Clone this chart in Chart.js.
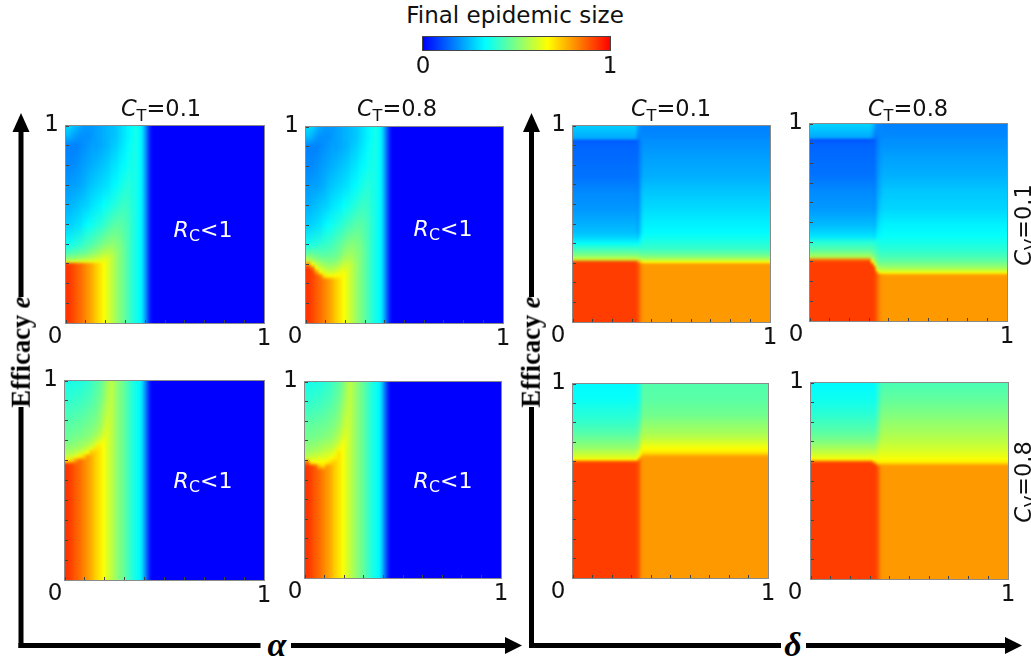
<!DOCTYPE html>
<html><head><meta charset="utf-8">
<style>
html,body{margin:0;padding:0;background:#fff;width:1031px;height:662px;overflow:hidden}
#page{position:relative;width:1031px;height:662px;overflow:hidden;font-family:"DejaVu Sans",sans-serif;color:#111}
canvas{position:absolute}
svg{position:absolute;left:0;top:0}
.t{position:absolute;white-space:nowrap;transform:translate(-50%,-50%);line-height:1}
.s{font-size:.72em;position:relative;top:.28em}
.r{transform:translate(-50%,-50%) rotate(-90deg)}
.w{color:#fff}
.ax{font-family:"Liberation Serif",serif;font-weight:bold;color:#000}
</style></head>
<body><div id="page">
<svg width="1031" height="662">
<g fill="#000">
<rect x="18.5" y="128" width="5" height="169"/><rect x="18.5" y="407" width="5" height="241"/>
<polygon points="21,113 12.5,132 29.5,132"/>
<rect x="18.5" y="643" width="242" height="5"/><rect x="291" y="643" width="215" height="5"/>
<polygon points="522,645.5 505,637 505,654"/>
<rect x="529" y="128" width="5" height="169"/><rect x="529" y="407" width="5" height="241"/>
<polygon points="531.5,113 523,132 540,132"/>
<rect x="529" y="643" width="252" height="5"/><rect x="806" y="643" width="200" height="5"/>
<polygon points="1022,645.5 1005,637 1005,654"/>
</g></svg>
<div id="overlay"></div>
</div>
<script src="https://cdn.jsdelivr.net/npm/chart.js@4/dist/chart.umd.js"></script>
<script>
// ---- shared axis content ----
const colorbarTitle = "Final epidemic size";
const colorbarStops = [0, 0.1, 0.2, 0.3333, 0.4, 0.5, 0.6, 0.6667, 0.8, 0.9, 1];
const colorbarTicks = [0, 1];
const tickValues = [0, 0.1, 0.2, 0.3, 0.4, 0.5, 0.6, 0.7, 0.8, 0.9, 1];

// ---- left group: columns along alpha, values in percent at each efficacy knot ----
const alphaEdges = [0,.02,.04,.06,.08,.10,.12,.14,.16,.18,.20,.22,.24,.26,.28,.30,.32,.34,.36,.38,.39,.40,.41,.42,.43,1];
const alphaTail = [[33],[28],[22],[15],[8],[3],[0]];

const knotsA = [.30,.31,.33,.36,.40,.50,.60,.70,.80,.90,.95,1];
const sizeA = [
[93,62,50,42,35,27,23,20,18,17,24,28],
[91,62,51,43,36,28,24,21,18,17,22,26],
[88,62,52,44,38,29,25,21,19,17,20,24],
[86,63,53,45,39,30,26,22,20,18,19,22],
[83,64,54,46,41,32,27,23,21,19,19,20],
[80,64,56,48,43,34,28,25,22,20,19,20],
[77,64,57,50,44,35,30,26,23,21,20,20],
[73,65,59,52,46,37,31,27,24,21,21,21],
[70,65,60,54,48,38,32,28,25,22,22,22],
[66,65,62,56,50,40,34,29,26,23,23,23],
[62,62,61,57,51,42,35,30,27,24,24,24],
[58,58,58,56,52,44,37,32,29,26,25,25],
[54,54,54,53,51,45,38,33,30,27,26,26],
[50,50,50,50,49,45,40,35,32,29,28,28],
[47,47,47,47,46,44,41,37,33,31,30,30],
[43,43,43,43,43,42,40,38,35,33,32,32],
[39,39,39,39,39,39,38,37,36,35,34,34],
[36]];

const knotsB = [.20,.22,.24,.26,.28,.30,.32,.35,.40,.50,.60,.70,.80,.90,.95,1];
const sizeB = [
[93,93,93,93,93,80,58,47,36,27,23,20,18,17,25,29],
[91,91,91,91,85,65,55,47,37,28,24,21,18,17,23,27],
[88,88,88,80,65,58,52,46,38,29,25,21,19,17,20,24],
[86,86,84,66,60,56,50,45,39,30,26,22,20,18,19,22],
[83,83,70,62,57,53,49,45,40,32,27,23,21,19,19,20],
[80,80,67,60,56,52,49,45,41,34,28,25,22,20,19,20],
[77,77,66,60,56,52,49,46,42,35,30,26,23,21,20,20],
[73,73,67,62,57,54,50,47,44,37,31,27,24,21,21,21],
[70,70,67,64,60,56,53,49,46,38,32,28,25,22,22,22],
[66,66,66,65,62,59,56,52,48,40,34,29,26,23,23,23],
[62,62,62,62,61,60,57,54,50,42,35,30,27,24,24,24],
[58,58,58,58,58,57,56,54,51,43,37,32,29,26,25,25],
[54,54,54,54,54,54,53,52,50,45,38,33,30,27,26,26],
[50,50,50,50,50,50,50,50,49,45,40,35,32,29,28,28],
[47,47,47,47,47,47,47,47,46,44,41,37,33,31,30,30],
[43,43,43,43,43,43,43,43,43,42,40,38,35,33,32,32],
[39,39,39,39,39,39,39,39,39,39,38,37,36,35,34,34],
[36]];

const knotsC = [.58,.60,.62,.64,.66,.68,.70,.72,.74,.78,.85,.92,1];
const sizeC = [
[93,70,60,55,53,51,48,47,46,45,42,39,36],
[91,72,61,56,53,51,49,48,47,45,42,39,36],
[88,80,64,58,54,52,50,49,47,46,43,40,37],
[86,86,68,60,55,53,51,49,48,46,43,40,37],
[83,83,72,63,57,54,52,50,49,47,44,41,38],
[80,80,80,66,60,56,53,51,50,48,45,42,39],
[77,77,77,74,63,58,55,53,51,49,46,43,41],
[73,73,73,73,70,62,58,55,53,50,47,45,43],
[70,70,70,70,70,68,62,58,56,53,50,47,45],
[66,66,66,66,66,66,65,62,60,57,54,51,49],
[62,62,62,62,62,62,62,62,62,61,58,56,54],
[58],[54],[50],[47],[43],[39],[36]];

const knotsD = [.55,.57,.59,.61,.63,.65,.67,.69,.72,.78,.85,.92,1];
const sizeD = [
[93,93,85,60,56,53,52,50,48,46,42,39,36],
[91,91,68,61,57,54,52,51,48,46,42,39,36],
[88,88,66,62,58,55,53,51,49,46,43,40,37],
[86,75,67,63,59,56,54,52,49,47,43,40,37],
[83,72,67,63,60,57,55,53,50,47,44,41,38],
[80,80,68,64,61,58,56,54,51,48,45,42,39],
[77,77,72,66,63,60,57,55,52,49,46,43,41],
[73,73,73,69,65,62,59,57,54,50,47,45,43],
[70,70,70,70,70,68,63,60,57,53,50,47,45],
[66,66,66,66,66,66,66,65,61,57,54,51,49],
[62,62,62,62,62,62,62,62,62,60,58,56,54],
[58],[54],[50],[47],[43],[39],[36]];

// ---- right group: columns along delta ----
const deltaEdgesE = [0,.32,.33,.34,.35,1];
const knotsE = [.295,.305,.32,.34,.37,.40,.43,.46,.57,.66,.74,.83,.91,.925,.935,1];
const sizeE = [
[92,92,60,50,42,34,28,25,20,18,15,14,13,11,22,27],
[90,85,60,50,42,34,27,22,19,17,15,14,13,13,17,22],
[86,78,58,49,41,35,30,26,22,20,18,17,16,16,17,19],
[82,70,57,48,41,37,33,30,26,24,21,19,18,18,18,18],
[80,67,56,48,41,38,35,33,29,26,23,21,19,19,18,17]];

const deltaEdgesF = [0,.305,.32,.33,.34,.35,.365,1];
const knotsF = [.225,.235,.245,.255,.27,.285,.30,.31,.325,.36,.40,.43,.48,.57,.66,.74,.83,.90,.92,.93,1];
const sizeF = [
[92,92,92,92,92,92,92,85,56,45,38,30,25,20,18,15,14,13,10,22,28],
[92,92,92,92,92,92,70,60,52,44,38,30,25,20,18,15,14,13,11,20,26],
[91,91,91,91,90,66,58,54,50,43,37,29,24,19,17,15,14,13,12,16,22],
[88,88,88,70,60,54,50,48,46,41,37,32,27,22,20,18,17,16,15,16,19],
[84,84,70,61,56,51,48,46,44,40,37,33,30,25,22,20,18,17,17,17,18],
[81,80,67,60,55,50,47,45,43,39,36,33,31,27,24,22,20,19,18,18,18],
[80,78,66,60,54,50,47,45,43,39,36,34,32,28,26,23,21,19,19,18,17]];

const deltaEdgesG = [0,.32,.33,.34,.35,1];
const knotsG = [.59,.60,.61,.62,.63,.64,.655,.67,.72,.75,.79,.84,.87,.925,1];
const sizeG = [
[92,88,67,63,61,59,56,53,47,44,41,38,37,34,33],
[91,88,68,64,62,60,57,54,48,45,42,39,37,35,34],
[88,88,84,70,66,64,60,57,51,48,44,41,39,37,36],
[83,83,83,80,72,68,65,62,55,51,47,43,42,40,39],
[80,80,80,80,78,72,68,66,58,55,52,48,47,45,44]];

const deltaEdgesH = [0,.31,.325,.335,.345,.355,1];
const knotsH = [.57,.58,.59,.60,.61,.65,.70,.75,.84,.92,1];
const sizeH = [
[92,92,92,85,66,58,50,45,39,35,33],
[92,92,88,72,66,58,50,45,39,35,33],
[91,88,74,68,65,59,52,47,41,37,35],
[86,82,72,68,65,61,55,50,45,41,39],
[82,80,72,68,66,62,57,53,48,44,41],
[80,79,72,68,66,62,58,55,50,46,43]];

// ---- layout of the panels ----
const PAD = {l:32, r:16, t:14, b:30};
const panels = [
 {x:66, y:126,w:198,h:197,edges:alphaEdges,knots:knotsA,cols:sizeA.concat(alphaTail),zero:11},
 {x:306,y:127,w:197,h:196,edges:alphaEdges,knots:knotsB,cols:sizeB.concat(alphaTail),zero:11},
 {x:65, y:381,w:199,h:199,edges:alphaEdges,knots:knotsC,cols:sizeC.concat(alphaTail),zero:10},
 {x:305,y:382,w:196,h:196,edges:alphaEdges,knots:knotsD,cols:sizeD.concat(alphaTail),zero:10},
 {x:573,y:126,w:197,h:196,edges:deltaEdgesE,knots:knotsE,cols:sizeE,zero:15},
 {x:810,y:124,w:197,h:197,edges:deltaEdgesF,knots:knotsF,cols:sizeF,zero:14},
 {x:573,y:384,w:195,h:194,edges:deltaEdgesG,knots:knotsG,cols:sizeG,zero:15},
 {x:811,y:383,w:197,h:196,edges:deltaEdgesH,knots:knotsH,cols:sizeH,zero:16}
];
const texts = [
 {x:515,y:15,html:colorbarTitle,fs:23},
 {x:161,y:108,html:'<i>C</i><span class="s">T</span>=0.1',fs:22.5},
 {x:397,y:108,html:'<i>C</i><span class="s">T</span>=0.8',fs:22.5},
 {x:671,y:108,html:'<i>C</i><span class="s">T</span>=0.1',fs:22.5},
 {x:908,y:108,html:'<i>C</i><span class="s">T</span>=0.8',fs:22.5},
 {x:203,y:230,html:'<i>R</i><span class="s">C</span>&lt;1',fs:22,cls:'w'},
 {x:443,y:229,html:'<i>R</i><span class="s">C</span>&lt;1',fs:22,cls:'w'},
 {x:203,y:481,html:'<i>R</i><span class="s">C</span>&lt;1',fs:22,cls:'w'},
 {x:443,y:481,html:'<i>R</i><span class="s">C</span>&lt;1',fs:22,cls:'w'},
 {x:1023,y:225,html:'<i>C</i><span class="s">V</span>=0.1',fs:22.5,cls:'r'},
 {x:1023,y:482,html:'<i>C</i><span class="s">V</span>=0.8',fs:22.5,cls:'r'},
 {x:21,y:352,html:'Efficacy <i>e</i>',fs:26.5,cls:'r ax'},
 {x:531,y:352,html:'Efficacy <i>e</i>',fs:26.5,cls:'r ax'},
 {x:277,y:645,html:'<i>α</i>',fs:34,cls:'ax'},
 {x:793,y:645,html:'<i>δ</i>',fs:34,cls:'ax'}
];

function jet(p){
  const v = p/100, third = 1/3;
  let r,g,b;
  if (v < third){ r=0; g=3*v; b=1; }
  else if (v < 2*third){ r=3*(v-third); g=1; b=1-r; }
  else { r=1; g=1-3*(v-2*third); b=0; }
  return 'rgb('+Math.round(r*255)+','+Math.round(g*255)+','+Math.round(b*255)+')';
}

// gradient fills are set once the scales have their final pixels
const fillPlugin = {
  id:'fill',
  beforeDatasetsDraw(chart,args,opts){
    chart.data.datasets.forEach((ds,i)=>{
      const el = chart.getDatasetMeta(i).data[0];
      let fill;
      if (opts.axisId==='x'){
        const sc = chart.scales.x;
        fill = chart.ctx.createLinearGradient(sc.getPixelForValue(0),0,sc.getPixelForValue(1),0);
        colorbarStops.forEach(s=>fill.addColorStop(s,jet(s*100)));
      } else {
        const vals = opts.cols[i], k = opts.knots, e = chart.scales.e;
        if (vals.length===1) return;
        const last = k.length-1;
        fill = chart.ctx.createLinearGradient(0,e.getPixelForValue(k[0]),0,e.getPixelForValue(k[last]));
        vals.forEach((v,j)=>fill.addColorStop((k[j]-k[0])/(k[last]-k[0]),jet(v)));
      }
      el.options = Object.assign({},el.options,{backgroundColor:fill});
    });
  }
};
const softPlugin = {
  id:'soft',
  afterDatasetsDraw(chart){
    const a = chart.chartArea, c = chart.ctx;
    c.save(); c.beginPath(); c.rect(a.left,a.top,a.width,a.height); c.clip();
    c.filter = 'blur(1.2px)';
    c.drawImage(chart.canvas,0,0);
    c.restore();
  }
};
const framePlugin = {
  id:'frame',
  afterDraw(chart,args,opts){
    const a = chart.chartArea, c = chart.ctx;
    c.save();
    c.strokeStyle = opts.color; c.lineWidth = 1;
    c.strokeRect(a.left-.5,a.top-.5,a.width+1,a.height+1);
    c.restore();
    if (opts.zero !== undefined){
      c.save();
      c.font = '23px "DejaVu Sans"'; c.fillStyle = '#111'; c.textAlign='center'; c.textBaseline='middle';
      c.fillText('0', chart.scales.x.getPixelForValue(0)-opts.zero, a.bottom+14);
      c.restore();
    }
  }
};
function noOverflow(s){ s.paddingTop=0; s.paddingBottom=0; s.paddingLeft=0; s.paddingRight=0; }

function addCanvas(x,y,w,h){
  const cv = document.createElement('canvas');
  cv.width = w; cv.height = h;
  cv.style.left = x+'px'; cv.style.top = y+'px';
  cv.style.width = w+'px'; cv.style.height = h+'px';
  document.getElementById('page').insertBefore(cv, document.getElementById('overlay'));
  return cv;
}

function drawPanel(p){
  const W = PAD.l+p.w+PAD.r, H = PAD.t+p.h+PAD.b;
  const cv = addCanvas(p.x-PAD.l,p.y-PAD.t,W,H);
  const datasets = p.cols.map((vals,i)=>({
    data:[[p.edges[i],p.edges[i+1]]],
    grouped:false, barPercentage:1, categoryPercentage:1, borderWidth:0, inflateAmount:0.6,
    xAxisID:'x', yAxisID:'y',
    backgroundColor:jet(vals[0])
  }));
  new Chart(cv,{
    type:'bar',
    data:{labels:[''],datasets},
    plugins:[fillPlugin,softPlugin,framePlugin],
    options:{
      indexAxis:'y',responsive:false,animation:false,devicePixelRatio:1,events:[],
      layout:{padding:{left:0,right:PAD.r,top:PAD.t,bottom:0}},
      plugins:{legend:{display:false},tooltip:{enabled:false},
               frame:{color:'#8a8a8a',zero:p.zero},
               fill:{knots:p.knots,cols:p.cols,axisId:'e'}},
      scales:{
        y:{type:'category',display:false},
        x:{type:'linear',position:'bottom',min:0,max:1,
           afterBuildTicks(s){s.ticks=tickValues.map(v=>({value:v}));},
           afterFit(s){s.height=PAD.b;noOverflow(s);},
           grid:{drawOnChartArea:false,tickLength:-3,tickColor:'#444',z:1},
           border:{display:false,z:1},
           ticks:{z:1,autoSkip:false,maxRotation:0,padding:5,color:'#111',font:{family:'"DejaVu Sans"',size:23},
                  callback:v=>v===1?'1':''}},
        e:{type:'linear',axis:'y',position:'left',min:0,max:1,offset:false,
           afterBuildTicks(s){s.ticks=tickValues.map(v=>({value:v}));},
           afterFit(s){s.width=PAD.l;noOverflow(s);},
           grid:{drawOnChartArea:false,offset:false,tickLength:-3,tickColor:'#444',z:1},
           border:{display:false,z:1},
           ticks:{z:1,autoSkip:false,maxRotation:0,padding:10,labelOffset:-1,color:'#111',font:{family:'"DejaVu Sans"',size:23},
                  callback:v=>v===1?'1':''}}
      }
    }
  });
}
panels.forEach(drawPanel);

// colour bar
(function(){
  const x=423,y=37,w=187,h=13,m=20,b=30;
  const cv = addCanvas(x-m,y-4,w+2*m,h+4+b);
  new Chart(cv,{
    type:'bar',
    data:{labels:[''],datasets:[{
      data:[[colorbarTicks[0],colorbarTicks[1]]],barPercentage:1,categoryPercentage:1,borderWidth:0,
      backgroundColor:jet(0)}]},
    plugins:[fillPlugin,framePlugin],
    options:{
      indexAxis:'y',responsive:false,animation:false,devicePixelRatio:1,events:[],
      layout:{padding:{left:m,right:m,top:4,bottom:0}},
      plugins:{legend:{display:false},tooltip:{enabled:false},frame:{color:'#444'},fill:{axisId:'x'}},
      scales:{
        y:{type:'category',display:false},
        x:{type:'linear',min:0,max:1,
           afterBuildTicks(s){s.ticks=colorbarTicks.map(v=>({value:v}));},
           afterFit(s){s.height=b;noOverflow(s);},
           grid:{display:false},border:{display:false},
           ticks:{autoSkip:false,maxRotation:0,padding:-5,color:'#111',font:{family:'"DejaVu Sans"',size:23},
                  callback:v=>String(v)}}
      }
    }
  });
})();

// text overlay
const ov = document.getElementById('overlay');
texts.forEach(t=>{
  const d=document.createElement('div');
  d.className='t '+(t.cls||'');
  d.style.left=t.x+'px'; d.style.top=t.y+'px'; d.style.fontSize=t.fs+'px';
  d.innerHTML=t.html;
  ov.appendChild(d);
});
</script>
</body></html>
